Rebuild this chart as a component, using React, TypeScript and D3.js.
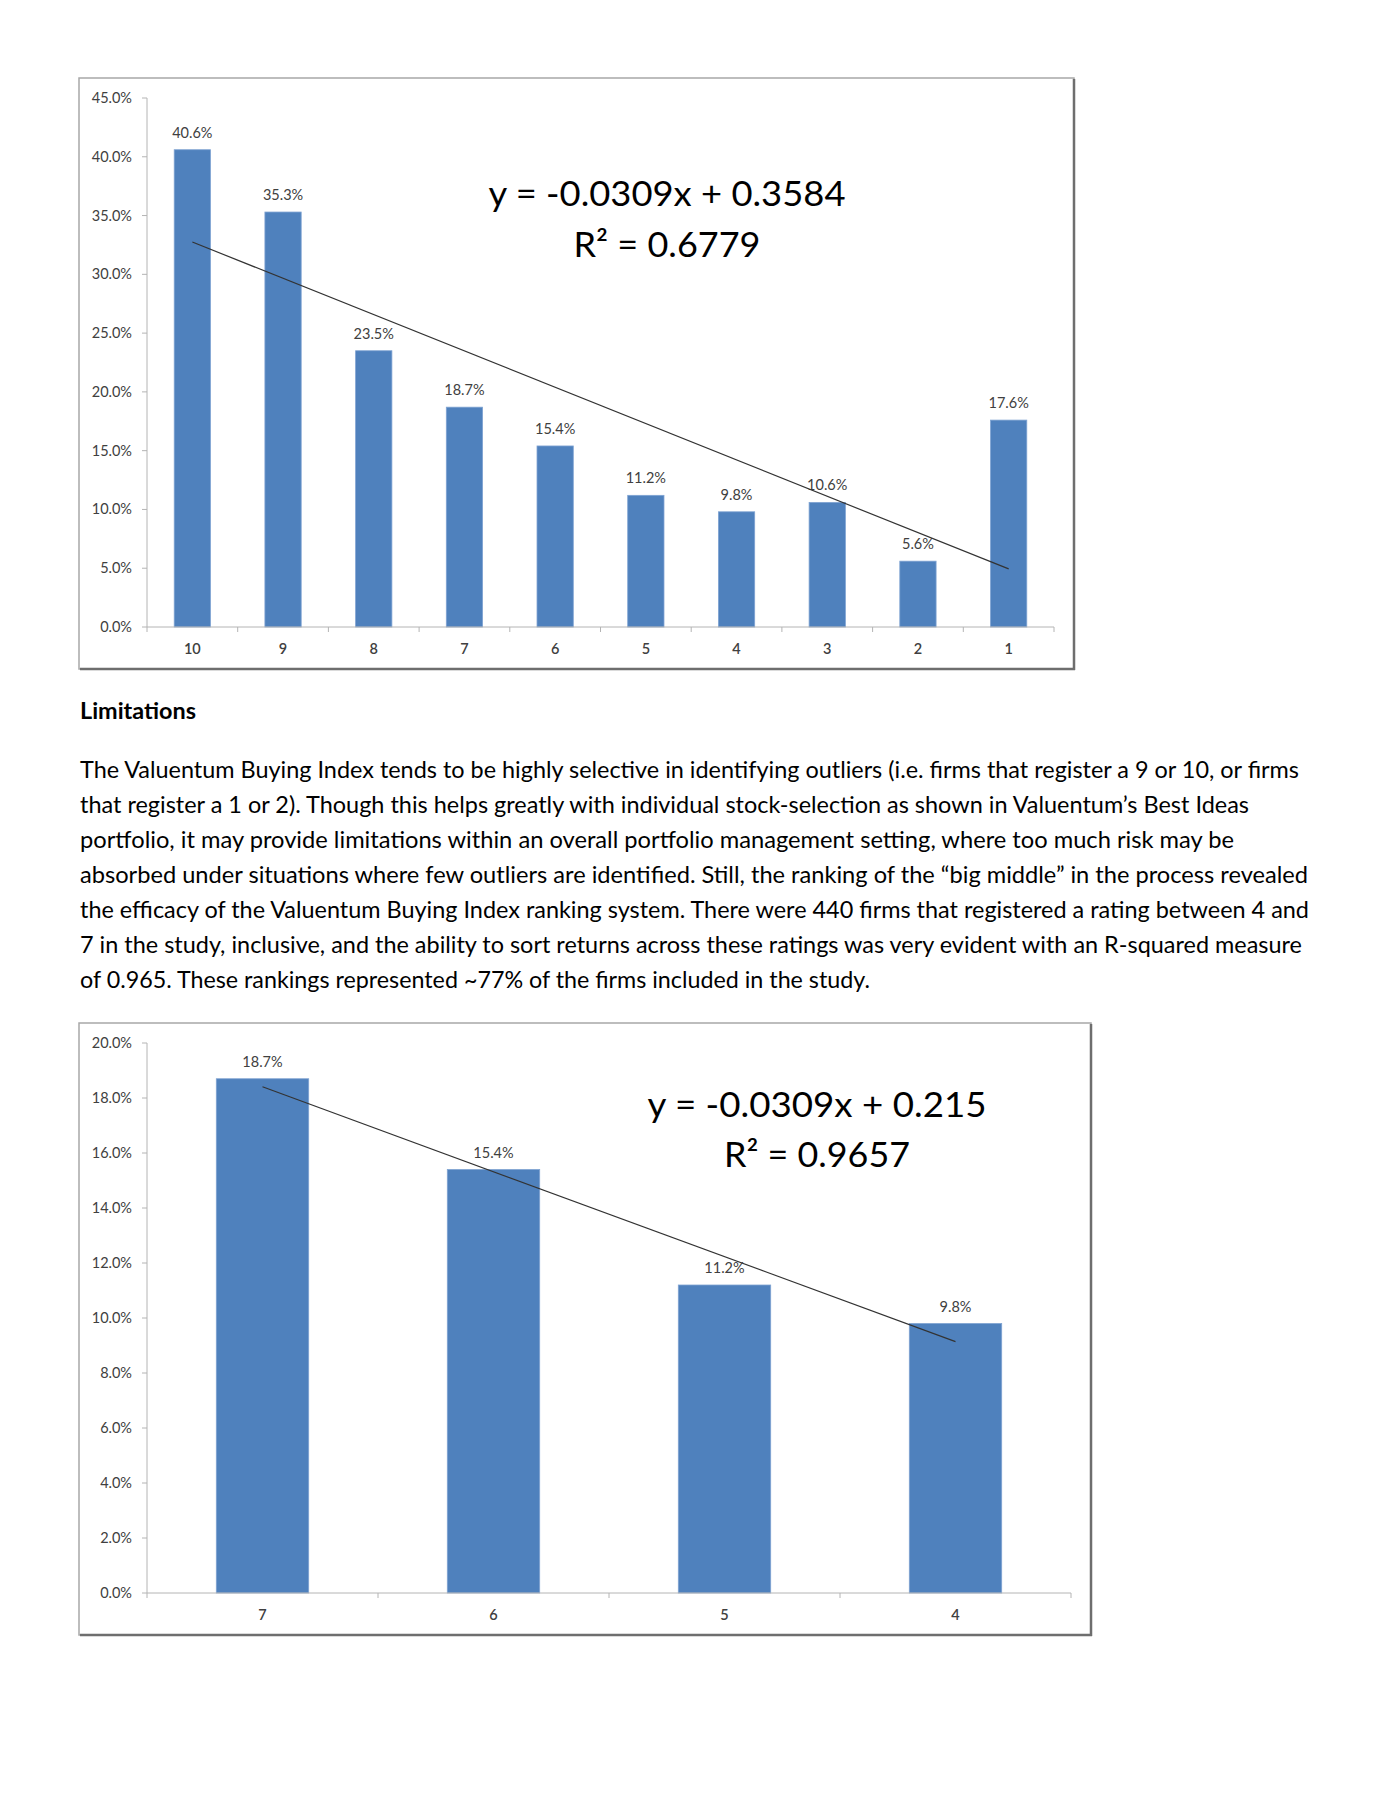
import React from "react";
import * as d3 from "d3";

// ---- Data ----
const categories1 = ["10", "9", "8", "7", "6", "5", "4", "3", "2", "1"];
const values1 = [0.406, 0.353, 0.235, 0.187, 0.154, 0.112, 0.098, 0.106, 0.056, 0.176];
const yTicks1 = [0, 0.05, 0.1, 0.15, 0.2, 0.25, 0.3, 0.35, 0.4, 0.45];
const trendSlope1 = -0.0309;
const trendIntercept1 = 0.3584;
const eqLine1 = "y = -0.0309x + 0.3584";
const r2Line1 = "R² = 0.6779";

const categories2 = ["7", "6", "5", "4"];
const values2 = [0.187, 0.154, 0.112, 0.098];
const yTicks2 = [0, 0.02, 0.04, 0.06, 0.08, 0.1, 0.12, 0.14, 0.16, 0.18, 0.2];
const trendSlope2 = -0.0309;
const trendIntercept2 = 0.215;
const eqLine2 = "y = -0.0309x + 0.215";
const r2Line2 = "R² = 0.9657";

const heading = "Limitations";
const paragraphLines = [
  "The Valuentum Buying Index tends to be highly selective in identifying outliers (i.e. firms that register a 9 or 10, or firms",
  "that register a 1 or 2). Though this helps greatly with individual stock-selection as shown in Valuentum\u2019s Best Ideas",
  "portfolio, it may provide limitations within an overall portfolio management setting, where too much risk may be",
  "absorbed under situations where few outliers are identified. Still, the ranking of the \u201cbig middle\u201d in the process revealed",
  "the efficacy of the Valuentum Buying Index ranking system. There were 440 firms that registered a rating between 4 and",
  "7 in the study, inclusive, and the ability to sort returns across these ratings was very evident with an R-squared measure",
  "of 0.965. These rankings represented ~77% of the firms included in the study.",
];
const paragraphLineEnds = [1299, 1249, 1234, 1308, 1309, 1302, 870];

const FONT = "Lato, 'Open Sans', sans-serif";
const BAR = "#4F81BD";
const AXIS = "#b4b4b4";
const LABEL = "#404040";
const fmt = d3.format(".1%");

type ChartProps = {
  cats: string[];
  vals: number[];
  ticks: number[];
  yMax: number;
  slope: number;
  intercept: number;
  eq: string;
  r2: string;
  frame: { x0: number; y0: number; x1: number; y1: number };
  plot: { left: number; right: number; top: number; bottom: number };
  eqPos: { cx: number; y1: number; y2: number; w1: number; w2: number };
};

function Chart(p: ChartProps) {
  const x = d3
    .scaleBand<string>()
    .domain(p.cats)
    .range([p.plot.left, p.plot.right])
    .paddingInner(0.6)
    .paddingOuter(0.3);
  const y = d3.scaleLinear().domain([0, p.yMax]).range([p.plot.bottom, p.plot.top]);
  const step = x.step();
  const bw = x.bandwidth();
  const bounds = d3.range(p.cats.length + 1).map((i) => p.plot.left + i * step);
  const n = p.cats.length;
  const trend = d3.line<number>()
    .x((i) => (x(p.cats[i - 1]) as number) + bw / 2)
    .y((i) => y(p.slope * i + p.intercept));
  const { x0, y0, x1, y1 } = p.frame;
  return (
    <g>
      <rect x={x0} y={y0} width={x1 - x0} height={y1 - y0} fill="#fff" stroke="#a8a8a8" strokeWidth={1.5} />
      <line x1={x1} y1={y0 + 1} x2={x1} y2={y1 + 1} stroke="#6e6e6e" strokeWidth={2.5} />
      <line x1={x0 + 1} y1={y1} x2={x1 + 1} y2={y1} stroke="#6e6e6e" strokeWidth={2.5} />
      {/* y axis */}
      <line x1={p.plot.left} x2={p.plot.left} y1={y(p.yMax)} y2={p.plot.bottom} stroke={AXIS} strokeWidth={1} />
      {p.ticks.map((t) => (
        <g key={t}>
          <line x1={p.plot.left - 5} x2={p.plot.left} y1={y(t)} y2={y(t)} stroke={AXIS} />
          <text x={p.plot.left - 15} y={y(t) + 5} textAnchor="end" fontFamily={FONT} fontSize={14.5} fill={LABEL}>
            {fmt(t)}
          </text>
        </g>
      ))}
      {/* bars */}
      {p.cats.map((c, i) => (
        <g key={c}>
          <rect
            x={x(c)}
            y={y(p.vals[i])}
            width={bw}
            height={p.plot.bottom - y(p.vals[i])}
            fill={BAR}
            stroke="#7fa3d2"
            strokeWidth={0.8}
          />
          <text x={(x(c) as number) + bw / 2} y={y(p.vals[i]) - 12} textAnchor="middle" fontFamily={FONT} fontSize={14.5} fill={LABEL}>
            {fmt(p.vals[i])}
          </text>
          <text x={(x(c) as number) + bw / 2} y={p.plot.bottom + 27} textAnchor="middle" fontFamily={FONT} fontSize={14.5} fontWeight={600} fill={LABEL}>
            {c}
          </text>
        </g>
      ))}
      {/* x axis */}
      <line x1={p.plot.left} x2={p.plot.right} y1={p.plot.bottom} y2={p.plot.bottom} stroke={AXIS} strokeWidth={1} />
      {bounds.map((b, i) => (
        <line key={i} x1={b} x2={b} y1={p.plot.bottom} y2={p.plot.bottom + 5} stroke={AXIS} />
      ))}
      {/* trend line */}
      <path d={trend([1, n]) || ""} fill="none" stroke="#333" strokeWidth={1.2} />
      {/* equation */}
      <text x={p.eqPos.cx} y={p.eqPos.y1} textAnchor="middle" fontFamily={FONT} fontSize={34} fill="#000"
        textLength={p.eqPos.w1} lengthAdjust="spacingAndGlyphs">
        {p.eq}
      </text>
      <text x={p.eqPos.cx} y={p.eqPos.y2} textAnchor="middle" fontFamily={FONT} fontSize={34} fill="#000"
        textLength={p.eqPos.w2} lengthAdjust="spacingAndGlyphs">
        {p.r2}
      </text>
    </g>
  );
}

export default function App() {
  const textLeft = 80;
  return (
    <svg
      width={1396}
      height={1803}
      viewBox="0 0 1396 1803"
      style={{ position: "absolute", left: 0, top: 0, display: "block", background: "#fff" }}
    >
      <rect x={0} y={0} width={1396} height={1803} fill="#fff" />
      <Chart
        cats={categories1}
        vals={values1}
        ticks={yTicks1}
        yMax={0.45}
        slope={trendSlope1}
        intercept={trendIntercept1}
        eq={eqLine1}
        r2={r2Line1}
        frame={{ x0: 79, y0: 78, x1: 1074, y1: 669 }}
        plot={{ left: 147, right: 1054, top: 98, bottom: 627 }}
        eqPos={{ cx: 667, y1: 206, y2: 257, w1: 357, w2: 187 }}
      />
      <text x={textLeft} y={719} fontFamily={FONT} fontWeight={700} fontSize={22} fill="#000" textLength={116} lengthAdjust="spacingAndGlyphs">
        {heading}
      </text>
      {paragraphLines.map((l, i) => (
        <text key={i} x={textLeft} y={778 + i * 35} fontFamily={FONT} fontSize={23.5} fill="#000"
          textLength={paragraphLineEnds[i] - textLeft} lengthAdjust="spacingAndGlyphs">
          {l}
        </text>
      ))}
      <Chart
        cats={categories2}
        vals={values2}
        ticks={yTicks2}
        yMax={0.2}
        slope={trendSlope2}
        intercept={trendIntercept2}
        eq={eqLine2}
        r2={r2Line2}
        frame={{ x0: 79, y0: 1023, x1: 1091, y1: 1635 }}
        plot={{ left: 147, right: 1071, top: 1043, bottom: 1593 }}
        eqPos={{ cx: 817, y1: 1117, y2: 1167, w1: 339, w2: 186 }}
      />
    </svg>
  );
}
